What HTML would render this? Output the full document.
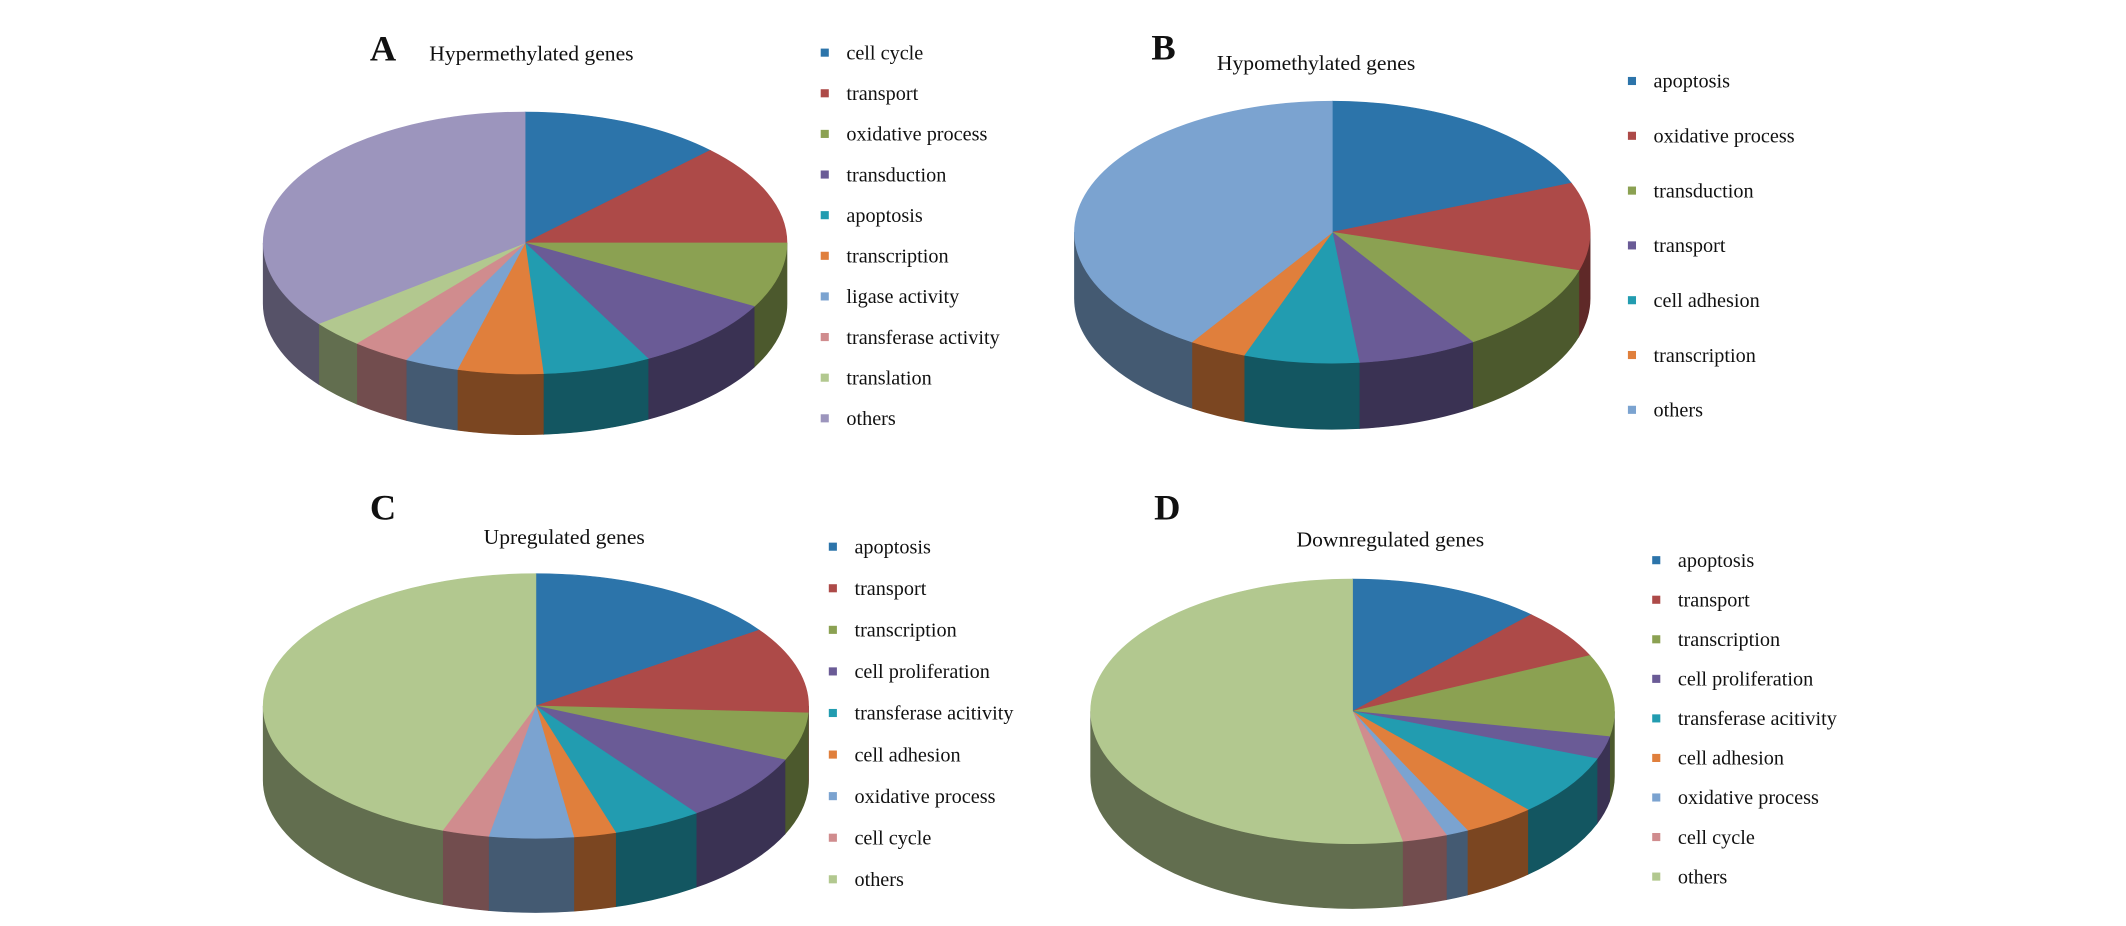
<!DOCTYPE html>
<html><head><meta charset="utf-8"><style>
html,body{margin:0;padding:0;background:#fff;}
svg{display:block;}
text{font-family:"Liberation Serif",serif;fill:#111;}
</style></head><body>
<svg id="fig" width="2126" height="926" viewBox="0 0 1575 686" preserveAspectRatio="none" xmlns="http://www.w3.org/2000/svg">
<rect width="1575" height="686" fill="#fff"/>
</svg>
<script>
const palette = {
  blue:"#2C74AA", red:"#AD4A48", green:"#8BA152", purple:"#6A5B96", teal:"#229CB0",
  orange:"#E07F3C", lblue:"#7BA3D0", pink:"#D08C8E", lgreen:"#B2C88F", lav:"#9C95BD"
};
// Panel A data (degrees of 360)
const catsA = ["cell cycle","transport","oxidative process","transduction","apoptosis","transcription","ligase activity","transferase activity","translation","others"];
const valsA = [45,45,29,33,24,19,12,13,12,128];
const colsA = ["blue","red","green","purple","teal","orange","lblue","pink","lgreen","lav"];
// Panel B
const catsB = ["apoptosis","oxidative process","transduction","transport","cell adhesion","transcription","others"];
const valsB = [68,39,40,27,26,13,147];
const colsB = ["blue","red","green","purple","teal","orange","lblue"];
// Panel C
const catsC = ["apoptosis","transport","transcription","cell proliferation","transferase acitivity","cell adhesion","oxidative process","cell cycle","others"];
const valsC = [55,38,21,30,19,9,18,10,160];
const colsC = ["blue","red","green","purple","teal","orange","lblue","pink","lgreen"];
// Panel D
const catsD = ["apoptosis","transport","transcription","cell proliferation","transferase acitivity","cell adhesion","oxidative process","cell cycle","others"];
const valsD = [43,22,36,10,27,16,5,10,191];
const colsD = ["blue","red","green","purple","teal","orange","lblue","pink","lgreen"];

const NS="http://www.w3.org/2000/svg";
const svg=document.getElementById('fig');
function mk(tag,attrs,parent){const e=document.createElementNS(NS,tag);for(const k in attrs)e.setAttribute(k,attrs[k]);(parent||svg).appendChild(e);return e;}
function shade(hex,f){const n=parseInt(hex.slice(1),16);const r=Math.round(((n>>16)&255)*f),g=Math.round(((n>>8)&255)*f),b=Math.round((n&255)*f);return `rgb(${r},${g},${b})`;}

function drawPanel(cfg){
  const {id,cats,vals,cols,cx,cy,rx,ry,depth,letter,lx,ly,title,tx,ty,tanchor,legX,legY,legDy}=cfg;
  const g=mk('g',{});
  
  
  const total=vals.reduce((a,b)=>a+b,0);
  const P=(deg,dy)=>{const t=deg*Math.PI/180;return [cx+rx*Math.sin(t),cy-ry*Math.cos(t)+(dy||0)];};
  let a=0;const segs=[];
  vals.forEach((v,i)=>{const s=a,e=a+v/total*360;segs.push([s,e]);a=e;});
  // side walls
  segs.forEach(([s,e],i)=>{
    const s2=Math.max(s,90),e2=Math.min(e,270);
    if(e2<=s2)return;
    const p1=P(s2),p2=P(e2),p3=P(e2,depth),p4=P(s2,depth);
    const d=`M${p1} A${rx},${ry} 0 0 1 ${p2} L${p3} A${rx},${ry} 0 0 0 ${p4} Z`;
    const w=mk('path',{d:d,fill:shade(palette[cols[i]],0.55),stroke:shade(palette[cols[i]],0.55),'stroke-width':0.5},g);
    
    
  });
  // top slices
  segs.forEach(([s,e],i)=>{
    const p1=P(s),p2=P(e);const large=(e-s)>180?1:0;
    const d=`M${cx},${cy} L${p1} A${rx},${ry} 0 ${large} 1 ${p2} Z`;
    const sl=mk('path',{d:d,fill:palette[cols[i]],stroke:palette[cols[i]],'stroke-width':0.5},g);
    
    
  });
  const L=mk('text',{x:lx,y:ly,'font-size':27,'font-weight':'bold'},g);L.textContent=letter;
  
  
  const T=mk('text',{x:tx,y:ty,'font-size':16,'text-anchor':tanchor},g);T.textContent=title;
  
  
  cats.forEach((c,i)=>{
    const y=legY+i*legDy;
    const sq=mk('rect',{x:legX,y:y-3,width:6,height:6,fill:palette[cols[i]]},g);
    
    
    const t=mk('text',{x:legX+19,y:y+5,'font-size':15},g);t.textContent=c;
    
    
  });
}
drawPanel({id:'a',cats:catsA,vals:valsA,cols:colsA,cx:389,cy:180,rx:194,ry:97,depth:45,letter:'A',lx:274,ly:45,title:'Hypermethylated genes',tx:318,ty:45,tanchor:'start',legX:608,legY:39,legDy:30.1});
drawPanel({id:'b',cats:catsB,vals:valsB,cols:colsB,cx:987,cy:172,rx:191,ry:97,depth:49,letter:'B',lx:853,ly:44,title:'Hypomethylated genes',tx:975,ty:52,tanchor:'middle',legX:1206,legY:60,legDy:40.6});
drawPanel({id:'c',cats:catsC,vals:valsC,cols:colsC,cx:397,cy:523,rx:202,ry:98,depth:55,letter:'C',lx:274,ly:385,title:'Upregulated genes',tx:418,ty:403,tanchor:'middle',legX:614,legY:405,legDy:30.8});
drawPanel({id:'d',cats:catsD,vals:valsD,cols:colsD,cx:1002,cy:527,rx:194,ry:98,depth:48,letter:'D',lx:855,ly:385,title:'Downregulated genes',tx:1030,ty:405,tanchor:'middle',legX:1224,legY:415,legDy:29.3});
</script>
</body></html>
